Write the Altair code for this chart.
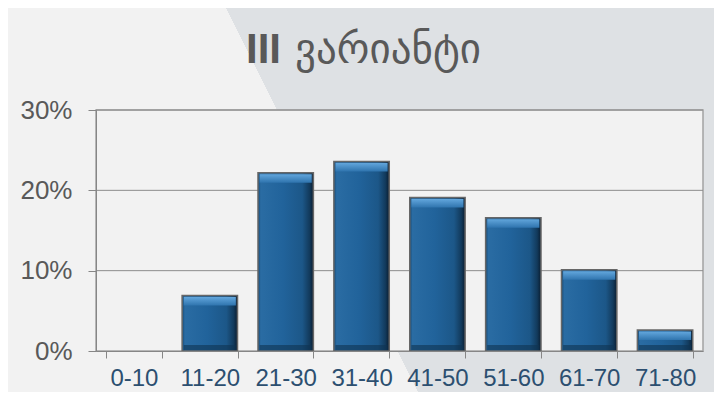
import altair as alt
import pandas as pd

# ---- data ----
categories = ["0-10", "11-20", "21-30", "31-40", "41-50", "51-60", "61-70", "71-80"]
shares = [0.0, 0.069, 0.222, 0.236, 0.191, 0.166, 0.101, 0.026]
y_ticks = [0.0, 0.1, 0.2, 0.3]
title_numeral = "III"
title_word = "ვარიანტი"

df = pd.DataFrame({"range": categories, "share": shares})
grid_df = pd.DataFrame({"tick": y_ticks[1:]})
one = alt.Data(values=[{}])

W, H = 607, 241
PAD = {"left": 88, "top": 102, "right": 11, "bottom": 41}

x_scale = alt.Scale(domain=categories, paddingInner=0.27, paddingOuter=0.135)
y_scale = alt.Scale(domain=[0, 0.3])

x_axis = alt.Axis(
    title=None, labelAngle=0, tickBand="extent", grid=False, zindex=1,
    domainColor="#868686", tickColor="#868686", tickSize=7,
    labelFont="Liberation Sans", labelFontSize=24, labelColor="#2c4f70",
    labelPadding=8,
)
y_axis = alt.Axis(
    title=None, values=y_ticks, format=".0%", grid=False, zindex=1,
    domainColor="#868686", tickColor="#868686", tickSize=8,
    labelFont="Liberation Sans", labelFontSize=26, labelColor="#595959",
    labelPadding=16,
)

# decorative backdrop with diagonal split
bg_grad = {
    "gradient": "linear", "x1": 0, "y1": 1, "x2": 1, "y2": 0.728,
    "stops": [
        {"offset": 0, "color": "#f2f2f2"},
        {"offset": 0.5408, "color": "#f2f2f2"},
        {"offset": 0.5408, "color": "#dee1e4"},
        {"offset": 1, "color": "#dee1e4"},
    ],
}
backdrop = alt.Chart(one).mark_rect(fill=bg_grad, strokeWidth=0).encode(
    x=alt.value(-PAD["left"]), x2=alt.value(W + PAD["right"]),
    y=alt.value(-PAD["top"]), y2=alt.value(H + PAD["bottom"]),
)
plot_bg = alt.Chart(one).mark_rect(fill="#f2f2f2", stroke="#a3a3a3", strokeWidth=1.5).encode(
    x=alt.value(0), x2=alt.value(W), y=alt.value(0), y2=alt.value(H),
)

grid = alt.Chart(grid_df).mark_rule(color="#8c8c8c", strokeWidth=1).encode(
    y=alt.Y("tick:Q", scale=y_scale, axis=y_axis),
)

bar_grad = {
    "gradient": "linear", "x1": 0, "y1": 0, "x2": 1, "y2": 0,
    "stops": [
        {"offset": 0, "color": "#174a75"},
        {"offset": 0.05, "color": "#2a6ca3"},
        {"offset": 0.45, "color": "#21639b"},
        {"offset": 0.8, "color": "#1c5788"},
        {"offset": 0.93, "color": "#123a5c"},
        {"offset": 1, "color": "#0a1d30"},
    ],
}
top_grad = {
    "gradient": "linear", "x1": 0, "y1": 0, "x2": 0, "y2": 1,
    "stops": [
        {"offset": 0, "color": "#62a6dc"},
        {"offset": 1, "color": "#2f74ae"},
    ],
}

base = alt.Chart(df).transform_filter("datum.share > 0")

bars = base.mark_bar(fill=bar_grad, stroke="#676767", strokeWidth=1.5).encode(
    x=alt.X("range:N", sort=categories, scale=x_scale, axis=x_axis),
    y=alt.Y("share:Q", scale=y_scale, axis=y_axis),
)
bevel_top = base.mark_bar(fill=top_grad, yOffset=1.5, y2Offset=10, width={"band": 0.94}).encode(
    x=alt.X("range:N", sort=categories, scale=x_scale, axis=x_axis),
    y=alt.Y("share:Q", scale=y_scale, axis=y_axis),
    y2=alt.Y2("share:Q"),
)
bevel_bottom = base.mark_bar(fill="#0f3352", opacity=0.6, width={"band": 0.94}).encode(
    x=alt.X("range:N", sort=categories, scale=x_scale, axis=x_axis),
    y=alt.Y("zero:Q", scale=y_scale, axis=y_axis),
    y2=alt.Y2("zero:Q"),
).transform_calculate(zero="0")

t1 = alt.Chart(one).mark_text(
    text=title_numeral, font="Liberation Sans", fontSize=42, fontWeight="bold",
    align="right", baseline="alphabetic", color="#595959",
).encode(x=alt.value(185), y=alt.value(-47))
t2 = alt.Chart(one).mark_text(
    text=title_word, font="DejaVu Sans", fontSize=41,
    align="left", baseline="alphabetic", color="#595959",
).encode(x=alt.value(199), y=alt.value(-47))

bevel_bottom = bevel_bottom.mark_bar(
    fill="#0f3352", opacity=0.6, width={"band": 0.94}, yOffset=-6, y2Offset=-1,
)

chart = alt.layer(backdrop, plot_bg, grid, bars, bevel_top, bevel_bottom, t1, t2).properties(
    width=W, height=H, autosize=alt.AutoSizeParams(type="none"), padding=PAD,
).configure_view(stroke=None)

chart.save("out.html", embed_options={"renderer": "svg", "actions": False})
